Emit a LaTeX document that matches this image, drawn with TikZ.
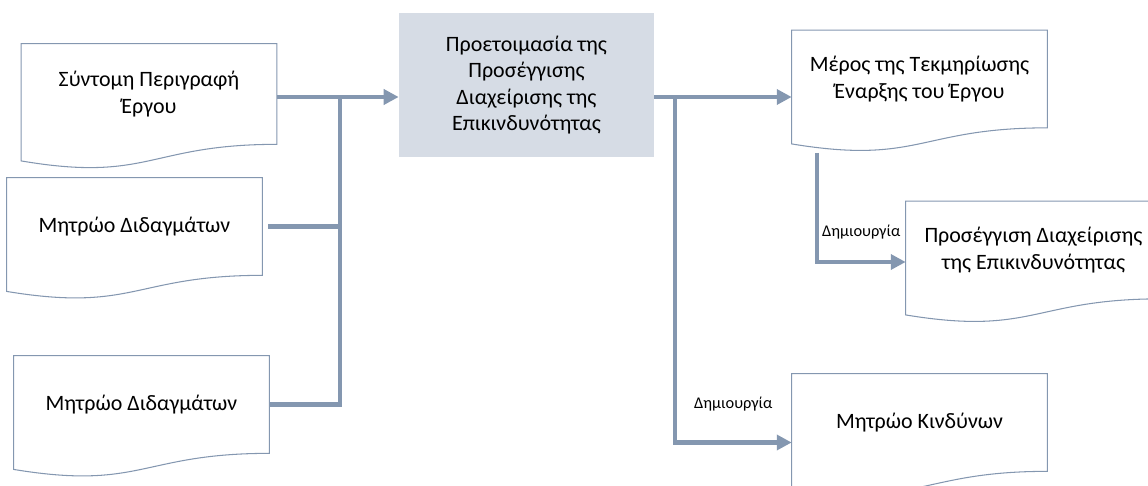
\documentclass[tikz,border=0pt]{standalone}
\usepackage{fontspec}
\setmainfont{Carlito}
\usetikzlibrary{positioning, calc, arrows.meta}

\definecolor{linkblue}{HTML}{8497B0}
\definecolor{boxfill}{HTML}{D6DCE5}

\tikzset{
  doc/.style={minimum width=5.1cm, minimum height=1.94cm, inner sep=0pt, align=center,
    font=\fontsize{12.5}{15}\selectfont},
  docline/.style={draw=linkblue, line width=0.6pt},
  task/.style={doc, fill=boxfill, minimum height=2.88cm},
  link/.style={draw=linkblue, line width=2.3pt},
  flow/.style={link, -{Triangle[length=8.5pt,width=8.5pt]}},
  note/.style={font=\fontsize{9.3}{11}\selectfont},
}

\begin{document}
\begin{tikzpicture}[x=0.02cm, y=-0.02cm]
    \useasboundingbox (0,0) rectangle (1148,486);

    % inputs on the left
    \node[doc, minimum height=2cm] (brief) at (149,94) {Σύντομη Περιγραφή\\Έργου};
    \node[doc] (lessonsA) at (134.5,226.5) {Μητρώο Διδαγμάτων};
    \node[doc] (lessonsB) at (141.5,404.5) {Μητρώο Διδαγμάτων};

    % the process step
    \node[task] (prep) at (526.5,85) {Προετοιμασία της\\Προσέγγισης\\Διαχείρισης της\\Επικινδυνότητας};

    % outputs on the right
    \node[doc] (charter) at (919.5,79) {Μέρος της Τεκμηρίωσης\\Έναρξης του Έργου};
    \node[doc] (approach) at (1033.5,250) {Προσέγγιση Διαχείρισης\\της Επικινδυνότητας};
    \node[doc] (risks) at (919.5,422.5) {Μητρώο Κινδύνων};

    % document outline with the wavy bottom
    \foreach \n in {brief, lessonsA, lessonsB, charter, approach, risks}
        \draw[docline] (\n.north west) -- (\n.north east) -- (\n.south east)
            .. controls (\n.south) and ($(\n.north)!1.381!(\n.south)$)
            .. ($(\n.north west)!1.1646!(\n.south west)$) -- cycle;

    \coordinate (join) at (340,97);
    \coordinate (fork) at (675,97);

    % inputs into the step
    \draw[flow] (brief.east |- join) -- (prep.west |- join);
    \draw[link] (lessonsB.east) -| (join);
    \draw[link] ($(lessonsA.east)+(6,0)$) -- (lessonsA.east -| join);

    % outputs of the step
    \draw[flow] (prep.east |- fork) -- (charter.west |- fork);
    \draw[flow] ($(fork)+(0,2)$) |- node[note, pos=0.75, above=0.46cm] {Δημιουργία} ($(risks.west)+(0,20)$);
    \draw[flow] ($(charter.south west)+(25,25)$) |- node[note, pos=0.75, above=0.3cm] {Δημιουργία} ($(approach.west)+(0,12)$);
\end{tikzpicture}
\end{document}
